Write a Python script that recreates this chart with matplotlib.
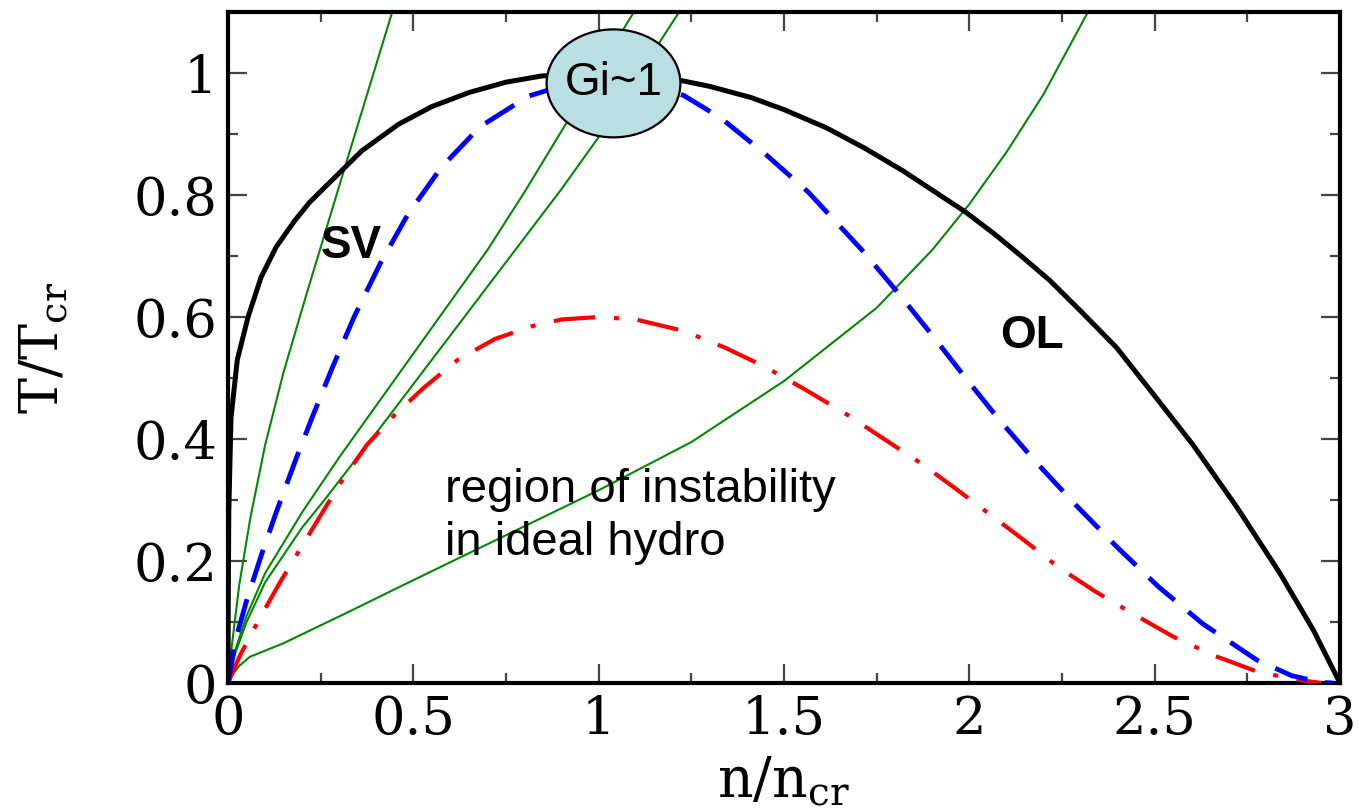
import numpy as np
import matplotlib
matplotlib.use("Agg")
import matplotlib.pyplot as plt
from matplotlib.patches import Ellipse
from matplotlib.ticker import MultipleLocator, FuncFormatter

# coexistence (black)
black_n = [0, 0.0005, 0.002, 0.008, 0.025, 0.054, 0.089, 0.13, 0.18, 0.22, 0.27, 0.36,
           0.46, 0.55, 0.65, 0.75, 0.845, 0.95, 1.05, 1.15, 1.22, 1.3, 1.41, 1.5, 1.615,
           1.72, 1.82, 1.9, 1.99, 2.07, 2.14, 2.217, 2.3, 2.397, 2.514, 2.604, 2.721,
           2.838, 2.928, 3.0]
black_T = [0, 0.12, 0.28, 0.435, 0.53, 0.6, 0.665, 0.715, 0.758, 0.788, 0.818, 0.872,
           0.916, 0.945, 0.968, 0.985, 0.995, 1.0, 1.0, 0.994, 0.988, 0.978, 0.96, 0.94,
           0.91, 0.876, 0.84, 0.808, 0.772, 0.735, 0.70, 0.66, 0.61, 0.55, 0.46, 0.39,
           0.289, 0.18, 0.087, 0.0]

# spinodal, blue dashed
blue_n = [0, 0.02, 0.05, 0.09, 0.13, 0.185, 0.23, 0.28, 0.34, 0.41, 0.485, 0.575, 0.68,
          0.81, 0.95, 1.05, 1.15, 1.23, 1.33, 1.45, 1.565, 1.71, 1.81, 1.90, 1.99, 2.08,
          2.18, 2.29, 2.40, 2.51, 2.63, 2.775, 2.87, 2.95, 2.98]
blue_T = [0, 0.07, 0.135, 0.21, 0.28, 0.37, 0.44, 0.515, 0.60, 0.687, 0.768, 0.845,
          0.912, 0.962, 0.988, 0.992, 0.98, 0.963, 0.926, 0.867, 0.805, 0.71, 0.638, 0.57,
          0.50, 0.432, 0.362, 0.29, 0.222, 0.158, 0.097, 0.038, 0.012, 0.001, 0.0]

# red dash-dot
red_n = [0, 0.032, 0.08, 0.14, 0.2, 0.25, 0.3, 0.374, 0.45, 0.53, 0.62, 0.72, 0.82, 0.9,
         1.0, 1.1, 1.23, 1.34, 1.45, 1.56, 1.67, 1.77, 1.87, 1.96, 2.05, 2.15, 2.24, 2.34,
         2.44, 2.55, 2.66, 2.78, 2.89, 2.95]
red_T = [0, 0.045, 0.1, 0.165, 0.225, 0.275, 0.325, 0.39, 0.44, 0.485, 0.53, 0.564, 0.585,
         0.596, 0.6, 0.596, 0.577, 0.55, 0.518, 0.48, 0.44, 0.40, 0.36, 0.32, 0.279, 0.233,
         0.19, 0.15, 0.114, 0.076, 0.045, 0.018, 0.005, 0.0]

# green trajectories
g1_n = [0, 0.01, 0.03, 0.06, 0.1, 0.15, 0.213, 0.32, 0.443]
g1_T = [0, 0.06, 0.16, 0.27, 0.39, 0.51, 0.64, 0.855, 1.1]

g2_n = [0, 0.02, 0.05, 0.1, 0.2, 0.3, 0.4, 0.5, 0.6, 0.7, 0.8, 0.9, 1.0, 1.095]
g2_T = [0, 0.055, 0.11, 0.18, 0.28, 0.37, 0.455, 0.54, 0.625, 0.71, 0.805, 0.905, 1.005, 1.1]

g3_n = [0, 0.02, 0.05, 0.1, 0.2, 0.26, 0.4, 0.5, 0.6, 0.7, 0.8, 0.9, 1.0, 1.1, 1.217]
g3_T = [0, 0.05, 0.1, 0.165, 0.255, 0.30, 0.41, 0.49, 0.57, 0.65, 0.73, 0.81, 0.895, 0.99, 1.1]

g4_n = [0, 0.01, 0.03, 0.059, 0.149, 0.33, 0.464, 0.725, 1.0, 1.25, 1.5, 1.75, 1.9, 2.0,
        2.1, 2.2, 2.32]
g4_T = [0, 0.012, 0.028, 0.043, 0.065, 0.118, 0.158, 0.235, 0.316, 0.395, 0.495, 0.615,
        0.71, 0.785, 0.87, 0.965, 1.1]

plt.rcParams["mathtext.fontset"] = "dejavuserif"

fig = plt.figure(figsize=(13.59, 8.11), dpi=100)
ax = fig.add_axes([0.1678, 0.1578, 0.8182, 0.8274])

for gn, gT in [(g1_n, g1_T), (g2_n, g2_T), (g3_n, g3_T), (g4_n, g4_T)]:
    ax.plot(gn, gT, color="#008a00", lw=1.5, zorder=2)

ax.plot(red_n, red_T, color="red", lw=3, dashes=(10, 4.5, 1.2, 4.5), zorder=3)
ax.plot(blue_n, blue_T, color="blue", lw=3.5, dashes=(7, 3.7), zorder=3)
ax.plot(black_n, black_T, color="black", lw=3.6, zorder=4)

# Ginzburg criterion marker
ax.add_patch(Ellipse((1.04, 0.983), 0.361, 0.177, facecolor="#b9dfe3",
                     edgecolor="black", lw=1.6, zorder=5))
ax.text(1.04, 0.983, "Gi~1", fontsize=33, family="Liberation Sans",
        ha="center", va="center", zorder=6)

ax.text(0.251, 0.697, "SV", fontsize=33, family="Liberation Sans", weight="bold")
ax.text(2.083, 0.55, "OL", fontsize=33, family="Liberation Sans", weight="bold")
ax.text(0.585, 0.21, "region of instability\nin ideal hydro", fontsize=34,
        family="Liberation Sans", va="baseline", linespacing=1.25)

ax.set_xlim(0, 3)
ax.set_ylim(0, 1.1)
ax.xaxis.set_major_locator(MultipleLocator(0.5))
ax.xaxis.set_minor_locator(MultipleLocator(0.25))
ax.yaxis.set_major_locator(MultipleLocator(0.2))
ax.yaxis.set_minor_locator(MultipleLocator(0.1))
fmt = FuncFormatter(lambda v, p: "%g" % round(v, 3))
ax.xaxis.set_major_formatter(fmt)
ax.yaxis.set_major_formatter(fmt)

ax.tick_params(which="both", direction="in", top=True, right=True, color="#444444")
ax.tick_params(which="major", length=14, width=1.6, pad=8)
ax.tick_params(which="minor", length=7, width=1.6)
for lab in ax.get_xticklabels() + ax.get_yticklabels():
    lab.set_family("DejaVu Serif")
    lab.set_fontsize(38)

for sp in ax.spines.values():
    sp.set_linewidth(3)
    sp.set_color("black")

ax.set_xlabel(r"n/n$_{\mathrm{cr}}$", family="DejaVu Serif", fontsize=40, labelpad=7)
ax.set_ylabel(r"T/T$_{\mathrm{cr}}$", family="DejaVu Serif", fontsize=39)
ax.yaxis.set_label_coords(-0.142, 0.5)

fig.savefig("out.png", dpi=100)
